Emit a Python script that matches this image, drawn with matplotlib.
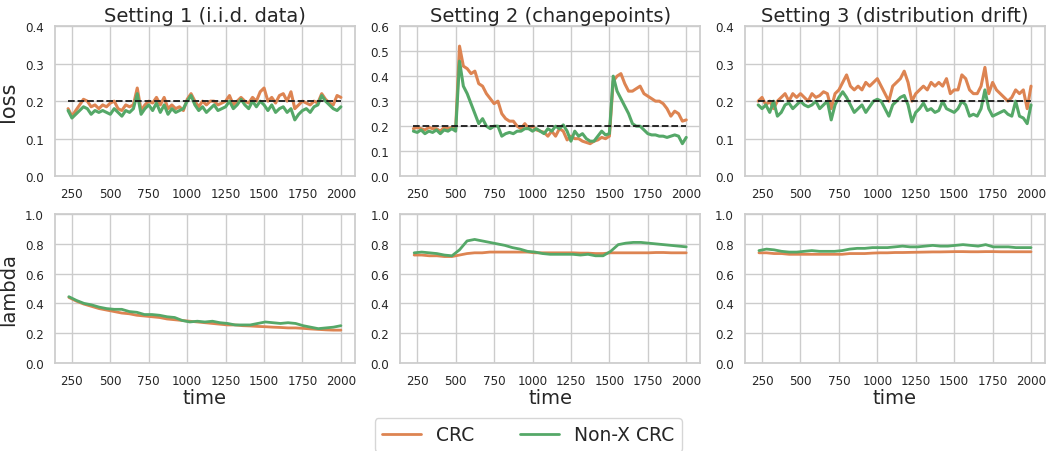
import numpy as np
import matplotlib.pyplot as plt
import seaborn as sns

sns.set_theme(style='whitegrid')
plt.rcParams['font.family'] = ['DejaVu Sans']

CRC_COLOR = '#dd8452'
NONX_COLOR = '#55a868'

# loss curves, read every 25 time steps from 225 to 2000
loss1_crc = [0.18, 0.16, 0.175, 0.19, 0.205, 0.2, 0.185, 0.19, 0.18, 0.19, 0.185, 0.195,
             0.2, 0.18, 0.175, 0.19, 0.185, 0.19, 0.235, 0.175, 0.19, 0.2, 0.195, 0.21,
             0.19, 0.21, 0.18, 0.19, 0.18, 0.185, 0.175, 0.205, 0.22, 0.2, 0.185, 0.2,
             0.19, 0.2, 0.2, 0.19, 0.195, 0.2, 0.215, 0.19, 0.2, 0.21, 0.2, 0.195,
             0.21, 0.2, 0.225, 0.235, 0.2, 0.21, 0.195, 0.215, 0.22, 0.2, 0.225, 0.18,
             0.19, 0.2, 0.195, 0.19, 0.2, 0.195, 0.22, 0.205, 0.195, 0.19, 0.215, 0.21]
loss1_nonx = [0.175, 0.155, 0.165, 0.175, 0.185, 0.18, 0.165, 0.175, 0.17, 0.175, 0.17, 0.165,
              0.18, 0.17, 0.16, 0.175, 0.17, 0.18, 0.22, 0.165, 0.18, 0.19, 0.175, 0.195,
              0.17, 0.19, 0.165, 0.18, 0.17, 0.175, 0.18, 0.2, 0.215, 0.19, 0.175, 0.185,
              0.17, 0.18, 0.19, 0.175, 0.18, 0.185, 0.2, 0.18, 0.19, 0.205, 0.19, 0.18,
              0.2, 0.185, 0.2, 0.19, 0.175, 0.19, 0.17, 0.18, 0.185, 0.17, 0.18, 0.15,
              0.165, 0.175, 0.18, 0.17, 0.185, 0.19, 0.215, 0.2, 0.19, 0.18, 0.175, 0.185]

loss2_crc = [0.19, 0.195, 0.19, 0.185, 0.195, 0.19, 0.19, 0.18, 0.195, 0.19, 0.195, 0.19,
             0.52, 0.44, 0.43, 0.41, 0.42, 0.37, 0.36, 0.33, 0.31, 0.29, 0.3, 0.25,
             0.23, 0.22, 0.22, 0.2, 0.19, 0.21, 0.19, 0.2, 0.185, 0.18, 0.175, 0.16,
             0.18, 0.16, 0.19, 0.18, 0.145, 0.16, 0.15, 0.15, 0.14, 0.135, 0.13, 0.14,
             0.145, 0.155, 0.15, 0.16, 0.38, 0.4, 0.41, 0.37, 0.34, 0.34, 0.35, 0.36,
             0.33, 0.32, 0.31, 0.3, 0.3, 0.29, 0.27, 0.24, 0.26, 0.25, 0.22, 0.225]
loss2_nonx = [0.18, 0.175, 0.185, 0.17, 0.18, 0.175, 0.185, 0.17, 0.185, 0.18, 0.19, 0.18,
              0.46, 0.36, 0.33, 0.29, 0.25, 0.21, 0.23, 0.2, 0.19, 0.2, 0.2, 0.16,
              0.17, 0.175, 0.17, 0.18, 0.18, 0.19, 0.19, 0.18, 0.19, 0.18, 0.17, 0.19,
              0.18, 0.2, 0.19, 0.205, 0.18, 0.14, 0.18, 0.16, 0.17, 0.15, 0.14, 0.14,
              0.16, 0.18, 0.165, 0.17, 0.4, 0.34, 0.31, 0.28, 0.25, 0.21, 0.2, 0.2,
              0.185, 0.17, 0.165, 0.165, 0.16, 0.16, 0.155, 0.16, 0.165, 0.16, 0.13, 0.155]

loss3_crc = [0.2, 0.21, 0.19, 0.2, 0.18, 0.2, 0.21, 0.22, 0.2, 0.22, 0.21, 0.22,
             0.21, 0.2, 0.22, 0.21, 0.215, 0.225, 0.22, 0.18, 0.22, 0.23, 0.25, 0.27,
             0.24, 0.23, 0.24, 0.23, 0.25, 0.24, 0.25, 0.26, 0.24, 0.22, 0.2, 0.24,
             0.25, 0.26, 0.28, 0.25, 0.2, 0.22, 0.23, 0.24, 0.23, 0.25, 0.24, 0.25,
             0.24, 0.26, 0.22, 0.23, 0.23, 0.27, 0.26, 0.23, 0.22, 0.22, 0.24, 0.29,
             0.22, 0.25, 0.23, 0.22, 0.21, 0.2, 0.21, 0.23, 0.22, 0.23, 0.18, 0.24]
loss3_nonx = [0.19, 0.18, 0.19, 0.17, 0.2, 0.16, 0.17, 0.19, 0.195, 0.18, 0.19, 0.2,
              0.19, 0.185, 0.19, 0.2, 0.18, 0.19, 0.2, 0.15, 0.19, 0.21, 0.225, 0.21,
              0.19, 0.17, 0.18, 0.19, 0.17, 0.185, 0.2, 0.205, 0.2, 0.18, 0.16, 0.19,
              0.2, 0.21, 0.215, 0.19, 0.145, 0.17, 0.18, 0.195, 0.175, 0.18, 0.17, 0.175,
              0.2, 0.18, 0.175, 0.17, 0.18, 0.2, 0.19, 0.16, 0.165, 0.16, 0.18, 0.23,
              0.18, 0.16, 0.165, 0.17, 0.175, 0.165, 0.16, 0.2, 0.16, 0.155, 0.14, 0.19]

# lambda curves, read about every 50 time steps from 230 to 2000
lam1_crc = [0.44, 0.415, 0.395, 0.38, 0.365, 0.355, 0.345, 0.335, 0.33, 0.32, 0.315, 0.31,
            0.305, 0.295, 0.29, 0.285, 0.28, 0.275, 0.27, 0.265, 0.26, 0.255, 0.255, 0.25,
            0.248, 0.245, 0.243, 0.24, 0.238, 0.235, 0.235, 0.232, 0.228, 0.225, 0.222, 0.22, 0.22]
lam1_nonx = [0.445, 0.42, 0.4, 0.39, 0.375, 0.365, 0.36, 0.36, 0.345, 0.34, 0.325, 0.325,
             0.32, 0.31, 0.305, 0.285, 0.275, 0.28, 0.275, 0.28, 0.27, 0.265, 0.255, 0.255,
             0.255, 0.265, 0.275, 0.27, 0.265, 0.27, 0.265, 0.25, 0.24, 0.23, 0.235, 0.24, 0.25]

lam2_crc = [0.725, 0.725, 0.72, 0.72, 0.715, 0.715, 0.725, 0.735, 0.74, 0.74, 0.745, 0.745,
            0.745, 0.745, 0.745, 0.745, 0.74, 0.74, 0.74, 0.74, 0.74, 0.74, 0.738, 0.738,
            0.735, 0.735, 0.74, 0.74, 0.74, 0.74, 0.74, 0.74, 0.742, 0.742, 0.74, 0.74, 0.74]
lam2_nonx = [0.74, 0.745, 0.74, 0.735, 0.725, 0.72, 0.76, 0.82, 0.83, 0.82, 0.81, 0.8,
             0.79, 0.775, 0.765, 0.75, 0.745, 0.735, 0.73, 0.73, 0.73, 0.73, 0.725, 0.73,
             0.72, 0.72, 0.75, 0.795, 0.805, 0.81, 0.81, 0.805, 0.8, 0.795, 0.79, 0.785, 0.78]

lam3_crc = [0.74, 0.74, 0.735, 0.735, 0.73, 0.73, 0.73, 0.73, 0.73, 0.73, 0.73, 0.73,
            0.735, 0.735, 0.735, 0.738, 0.74, 0.74, 0.742, 0.742, 0.743, 0.744, 0.745, 0.746,
            0.746, 0.747, 0.748, 0.748, 0.747, 0.747, 0.748, 0.748, 0.747, 0.747, 0.747, 0.747, 0.747]
lam3_nonx = [0.755, 0.765, 0.76, 0.75, 0.745, 0.745, 0.75, 0.755, 0.75, 0.75, 0.75, 0.755,
             0.765, 0.77, 0.77, 0.775, 0.775, 0.775, 0.78, 0.785, 0.78, 0.78, 0.785, 0.79,
             0.785, 0.785, 0.79, 0.795, 0.79, 0.785, 0.795, 0.78, 0.78, 0.78, 0.775, 0.775, 0.775]

titles = ['Setting 1 (i.i.d. data)', 'Setting 2 (changepoints)', 'Setting 3 (distribution drift)']
loss_crc = [loss1_crc, loss2_crc, loss3_crc]
loss_nonx = [loss1_nonx, loss2_nonx, loss3_nonx]
lam_crc = [lam1_crc, lam2_crc, lam3_crc]
lam_nonx = [lam1_nonx, lam2_nonx, lam3_nonx]
loss_top = [0.4, 0.6, 0.4]
target = 0.2

fig = plt.figure(figsize=(10.48, 4.52), dpi=100)
lefts = [0.0525, 0.382, 0.711]
width = 0.286

for k in range(3):
    ax_top = fig.add_axes([lefts[k], 0.608, width, 0.332])
    ax_bot = fig.add_axes([lefts[k], 0.195, width, 0.329])

    t = np.linspace(225, 2000, len(loss_crc[k]))
    ax_top.plot(t, loss_crc[k], color=CRC_COLOR, lw=2.2)
    ax_top.plot(t, loss_nonx[k], color=NONX_COLOR, lw=2.2)
    ax_top.plot([t[0], t[-1]], [target, target], 'k--', lw=1.3)
    ax_top.set_ylim(0, loss_top[k])
    ax_top.set_yticks(np.arange(0, loss_top[k] + 0.01, 0.1))
    ax_top.set_title(titles[k], fontsize=14, pad=4)

    tl = np.linspace(230, 2000, len(lam_crc[k]))
    ax_bot.plot(tl, lam_crc[k], color=CRC_COLOR, lw=2, label='CRC')
    ax_bot.plot(tl, lam_nonx[k], color=NONX_COLOR, lw=2, label='Non-X CRC')
    ax_bot.set_ylim(0, 1.0)
    ax_bot.set_yticks(np.arange(0, 1.01, 0.2))
    ax_bot.set_xlabel('time', fontsize=14, labelpad=1)

    for ax in (ax_top, ax_bot):
        ax.set_xlim(140, 2090)
        ax.set_xticks(np.arange(250, 2001, 250))
        ax.tick_params(labelsize=8.6, pad=2)

    if k == 0:
        ax_top.set_ylabel('loss', fontsize=15, labelpad=5)
        ax_bot.set_ylabel('lambda', fontsize=14, labelpad=5)
        handles, labels = ax_bot.get_legend_handles_labels()

fig.legend(handles, labels, loc='upper center', bbox_to_anchor=(0.504, 0.094),
           ncol=2, fontsize=13.5, frameon=True, handlelength=2.1, columnspacing=2.4)

plt.savefig('out.png', dpi=100)
